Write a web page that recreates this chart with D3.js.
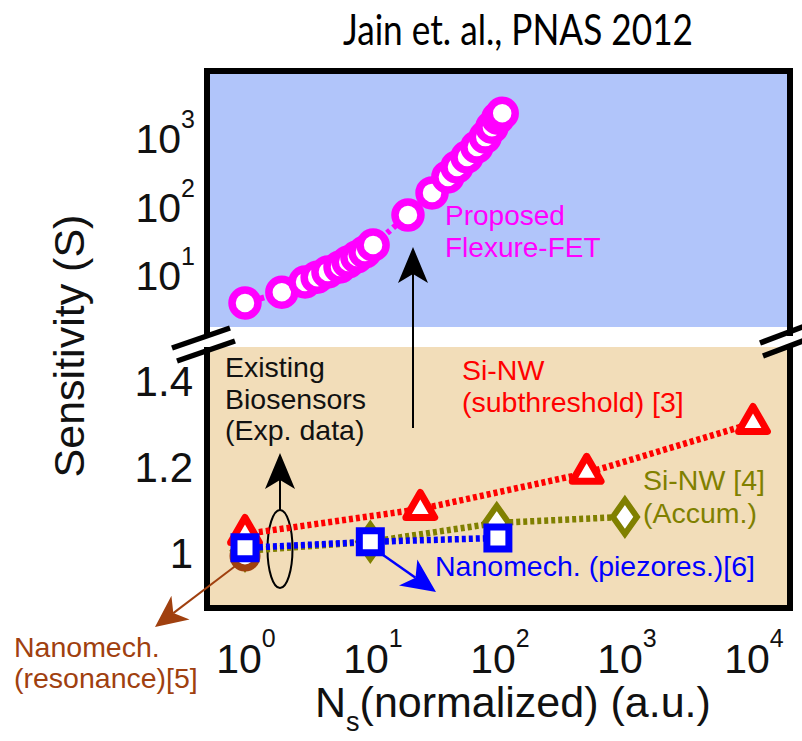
<!DOCTYPE html>
<html><head><meta charset="utf-8">
<script src="https://cdn.jsdelivr.net/npm/d3@7"></script>
<style>body{margin:0;background:#fff}svg{display:block}</style>
</head><body>
<svg id="chart" width="802" height="741"></svg>
<script>
// ---------- data ----------
const flexNs = [1, 1.95, 2.97, 3.7, 4.5, 5.6, 6.5, 7.6, 8.8, 10.2, 19.2, 29.7, 39.6, 46.7, 56, 67, 78, 88, 98, 106];
const flexS  = [3.9, 5.6, 7.9, 9.3, 11.1, 13.1, 15.5, 18.3, 21.7, 27.4, 75, 158, 270, 378, 528, 740, 1030, 1440, 1950, 2300];
const subNs  = [1, 24, 490, 10000];
const subS   = [1.044, 1.102, 1.186, 1.302];
const accNs  = [1, 9.7, 96, 980];
const accS   = [1.005, 1.026, 1.07, 1.084];
const piezoNs = [1, 9.7, 98];
const piezoS  = [1.012, 1.026, 1.035];
const resoNs = [1];
const resoS  = [0.993];
const xTickVals = [1, 10, 100, 1000, 10000];
const xTickExp  = ["0", "1", "2", "3", "4"];
const upTickVals = [10, 100, 1000];
const upTickExp  = ["1", "2", "3"];
const lowTickVals = [1, 1.2, 1.4];
const lowTickLabels = ["1", "1.2", "1.4"];

// ---------- setup ----------
const svg = d3.select("#chart");
const SANS = "'Liberation Sans', Arial, sans-serif";
const L = 207, R = 790, T = 71, B = 608;
const upTop = 73, upBot = 327, lowTop = 347, lowBot = 606;

const x = d3.scaleLog().domain([1, 1e4]).range([245, 753]);
const yUp = d3.scaleLog().domain([10, 1000]).range([275, 138]);
const yLow = d3.scaleLinear().domain([1, 1.4]).range([553, 381]);

// panels
svg.append("rect").attr("x", L).attr("y", upTop).attr("width", R - L).attr("height", upBot - upTop).attr("fill", "#b1c5fa");
svg.append("rect").attr("x", L).attr("y", lowTop).attr("width", R - L).attr("height", lowBot - lowTop).attr("fill", "#f2ddb9");

// frame
const fr = svg.append("g").attr("stroke", "#000").attr("stroke-width", 6).attr("fill", "none").attr("stroke-linecap", "square");
fr.append("path").attr("d", `M${L},333 V${T} H${R} V333`);
fr.append("path").attr("d", `M${L},350 V${B} H${R} V350`);
// break marks
const bm = svg.append("g").attr("stroke", "#000").attr("stroke-width", 5.5);
[[172, 348, 230, 328], [177, 361, 235, 341], [760, 343, 818, 321], [763, 356, 821, 334]].forEach(d => {
  bm.append("line").attr("x1", d[0]).attr("y1", d[1]).attr("x2", d[2]).attr("y2", d[3]);
});

// ---------- axes labels ----------
upTickVals.forEach((v, i) => {
  const t = svg.append("text").attr("x", 195).attr("y", yUp(v) + 15).attr("text-anchor", "end")
    .attr("font-family", SANS).attr("font-size", 41).attr("fill", "#111");
  t.append("tspan").text("10");
  t.append("tspan").attr("dy", -25).attr("font-size", 25).text(upTickExp[i]);
});
lowTickVals.forEach((v, i) => {
  svg.append("text").attr("x", 193).attr("y", yLow(v) + 15).attr("text-anchor", "end")
    .attr("font-family", SANS).attr("font-size", 42).attr("fill", "#111").text(lowTickLabels[i]);
});
xTickVals.forEach((v, i) => {
  const t = svg.append("text").attr("x", x(v) + 1).attr("y", 673).attr("text-anchor", "middle")
    .attr("font-family", SANS).attr("font-size", 41).attr("fill", "#111");
  t.append("tspan").text("10");
  t.append("tspan").attr("dy", -26).attr("font-size", 25).text(xTickExp[i]);
});
const xt = svg.append("text").attr("x", 315).attr("y", 717).attr("font-family", SANS).attr("font-size", 43).attr("fill", "#111");
xt.append("tspan").text("N");
xt.append("tspan").attr("dy", 14).attr("font-size", 27).text("s");
xt.append("tspan").attr("dy", -14).text("(normalized) (a.u.)");
svg.append("text").attr("transform", "translate(84,346) rotate(-90)").attr("text-anchor", "middle")
  .attr("font-family", SANS).attr("font-size", 43).attr("fill", "#111").text("Sensitivity (S)");
svg.append("text").attr("x", 518).attr("y", 45).attr("text-anchor", "middle")
  .attr("font-family", "'Gill Sans', Lato, sans-serif").attr("font-size", 43).attr("fill", "#000")
  .attr("textLength", 350).attr("lengthAdjust", "spacingAndGlyphs")
  .text("Jain et. al., PNAS 2012");

// ---------- helpers ----------
function arrow(g, x1, y1, x2, y2, color, w, hl, hw, notch) {
  const a = Math.atan2(y2 - y1, x2 - x1), c = Math.cos(a), s = Math.sin(a);
  const bx = x2 - c * (hl - notch), by = y2 - s * (hl - notch);
  g.append("line").attr("x1", x1).attr("y1", y1).attr("x2", bx).attr("y2", by)
    .attr("stroke", color).attr("stroke-width", w);
  const p1 = [x2 - c * hl - s * hw, y2 - s * hl + c * hw];
  const p2 = [x2 - c * hl + s * hw, y2 - s * hl - c * hw];
  g.append("path").attr("d", `M${x2},${y2} L${p1} L${bx},${by} L${p2} Z`).attr("fill", color);
}
const line = d3.line().x(d => x(d[0]));
function dotted(ns, vs, yS, color, w, dash) {
  svg.append("path").datum(d3.zip(ns, vs)).attr("d", line.y(d => yS(d[1])))
    .attr("fill", "none").attr("stroke", color).attr("stroke-width", w).attr("stroke-dasharray", dash);
}

// ---------- annotations ----------
const ann = svg.append("g");
arrow(ann, 413, 428, 413, 247, "#000", 2, 36, 15, 9);
ann.append("ellipse").attr("cx", 280).attr("cy", 549).attr("rx", 12.5).attr("ry", 39)
  .attr("fill", "none").attr("stroke", "#000").attr("stroke-width", 2);
arrow(ann, 280, 510, 280, 453, "#000", 2, 36, 15, 9);
arrow(ann, 238, 564, 155, 627, "#a0400f", 2, 32, 15, 9);
arrow(ann, 376, 550, 436, 592, "#0000ff", 2.5, 34, 16, 9);

// ---------- series ----------
dotted(accNs, accS, yLow, "#808000", 6.5, "4 3");
svg.append("g").selectAll("path").data(d3.zip(accNs, accS)).join("path")
  .attr("transform", d => `translate(${x(d[0])},${yLow(d[1])})`)
  .attr("d", "M0,-17 L12,0 L0,17 L-12,0 Z")
  .attr("fill", "#fff").attr("stroke", "#808000").attr("stroke-width", 6).attr("stroke-linejoin", "miter");

svg.append("g").selectAll("circle").data(d3.zip(resoNs, resoS)).join("circle")
  .attr("cx", d => x(d[0])).attr("cy", d => yLow(d[1])).attr("r", 12)
  .attr("fill", "#fff").attr("stroke", "#a0400f").attr("stroke-width", 7);

dotted(subNs, subS, yLow, "#ff0000", 6.5, "4 3");
svg.append("g").selectAll("path").data(d3.zip(subNs, subS)).join("path")
  .attr("transform", d => `translate(${x(d[0])},${yLow(d[1])})`)
  .attr("d", d3.symbol(d3.symbolTriangle, 360)())
  .attr("fill", "#fff").attr("stroke", "#ff0000").attr("stroke-width", 7).attr("stroke-linejoin", "round");

dotted(piezoNs, piezoS, yLow, "#0000ff", 6.5, "4 3");
svg.append("g").selectAll("path").data(d3.zip(piezoNs, piezoS)).join("path")
  .attr("transform", d => `translate(${x(d[0])},${yLow(d[1])})`)
  .attr("d", d3.symbol(d3.symbolSquare, 484)())
  .attr("fill", "#fff").attr("stroke", "#0000ff").attr("stroke-width", 7);

dotted(flexNs, flexS, yUp, "#ff00ff", 6, "4 4");
svg.append("g").selectAll("circle").data(d3.zip(flexNs, flexS)).join("circle")
  .attr("cx", d => x(d[0])).attr("cy", d => yUp(d[1])).attr("r", 13)
  .attr("fill", "#fff").attr("stroke", "#ff00ff").attr("stroke-width", 7.5);

// ---------- text labels ----------
function label(lines, x0, y0, color, size, lh) {
  const t = svg.append("text").attr("font-family", SANS).attr("font-size", size).attr("fill", color);
  lines.forEach((s, i) => t.append("tspan").attr("x", x0).attr("y", y0 + i * lh).text(s));
}
label(["Proposed", "Flexure-FET"], 445, 225, "#ff00ff", 28, 32);
label(["Existing", "Biosensors", "(Exp. data)"], 225, 377, "#111", 28.5, 31.5);
label(["Si-NW", "(subthreshold) [3]"], 462, 380, "#ff0000", 28.5, 32);
label(["Si-NW [4]", "(Accum.)"], 643, 490, "#808000", 28.5, 33);
label(["Nanomech. (piezores.)[6]"], 435, 576, "#0000ff", 28.5, 32);
label(["Nanomech.", "(resonance)[5]"], 14, 657, "#a0400f", 28.5, 31);
</script>
</body></html>
